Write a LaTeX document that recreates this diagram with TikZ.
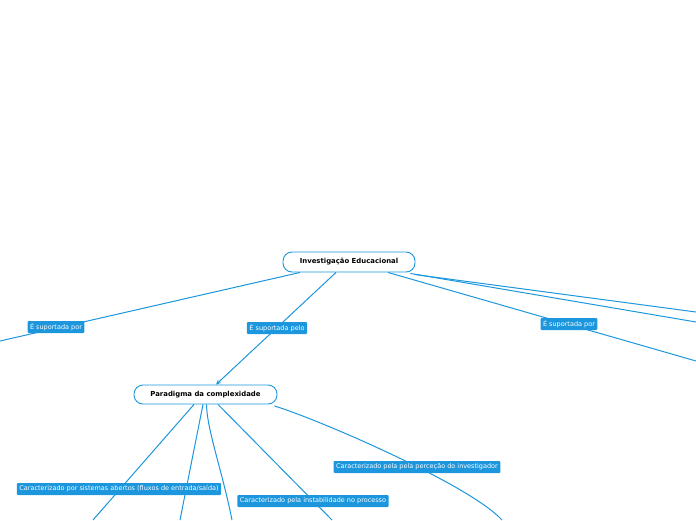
\documentclass[tikz,border=0pt]{standalone}
\usepackage{fontspec}
\setmainfont{DejaVu Sans}
\usepackage{tikz}
\usetikzlibrary{arrows.meta,positioning,calc}

\definecolor{mapblue}{HTML}{1C96DD}

\begin{document}
\begin{tikzpicture}[x=1pt,y=-1pt,
    topic/.style={draw=mapblue,line width=0.9pt,fill=white,rounded corners=9pt,
      font=\fontsize{6.9}{8}\selectfont\bfseries,inner sep=0pt},
    linklabel/.style={fill=mapblue,text=white,rounded corners=1pt,inner xsep=2.5pt,
      inner ysep=0pt,minimum height=12pt,font=\fontsize{6.5}{7.5}\selectfont},
    link/.style={mapblue,line width=1pt}]
  \useasboundingbox (0,0) rectangle (696,520);

  % Main topics
  \node[topic,minimum width=132pt,minimum height=20pt] (root) at (349,262) {Investigação Educacional};
  \node[topic,minimum width=143pt,minimum height=19pt] (parad) at (205.5,394.5) {Paradigma da complexidade};

  % Free ends at the border
  \coordinate (leftend) at (0,341);
  \coordinate (right1) at (696,312);
  \coordinate (right2) at (696,322);
  \coordinate (right3) at (696,361);
  \coordinate (down1) at (93,520);
  \coordinate (down2) at (180,520);
  \coordinate (down3) at (232,520);
  \coordinate (down4) at (332,520);
  \coordinate (down5) at (502,520);

  % Links from the root
  \draw[link] ([xshift=-49pt]root.south) -- (leftend);
  \draw[link,-{Stealth[length=5pt,width=4.5pt]}] ([xshift=-13pt]root.south) -- ([xshift=10.5pt]parad.north);
  \draw[link] ([xshift=-1pt,yshift=-2pt]root.south east) -- (right1);
  \draw[link] ([xshift=-5pt,yshift=-1pt]root.south east) -- (right2);
  \draw[link] ([xshift=39pt]root.south) -- (right3);

  % Links from the paradigm
  \draw[link] ([xshift=-11.5pt]parad.south) -- (down1);
  \draw[link] ([xshift=-2.5pt]parad.south) -- (down2);
  \draw[link] ([xshift=1pt]parad.south) .. controls (207,430) and (222,470) .. (down3);
  \draw[link] ([xshift=12.5pt]parad.south) -- (down4);
  \draw[link] ([xshift=-3pt,yshift=-1.5pt]parad.south east) .. controls (320,420) and (470,485) .. (down5);

  % Link labels
  \node[linklabel] (sup1) at (56,327) {É suportada por};
  \node[linklabel] (sup2) at (277,328) {É suportada pelo};
  \node[linklabel] (sup3) at (569,324) {É suportada por};
  \node[linklabel] (car1) at (119,489) {Caracterizado por sistemas abertos (fluxos de entrada/saída)};
  \node[linklabel] (car2) at (313,501) {Caracterizado pela instabilidade no processo};
  \node[linklabel] (car3) at (417,467) {Caracterizado pela pela perceção do investigador};
\end{tikzpicture}
\end{document}
